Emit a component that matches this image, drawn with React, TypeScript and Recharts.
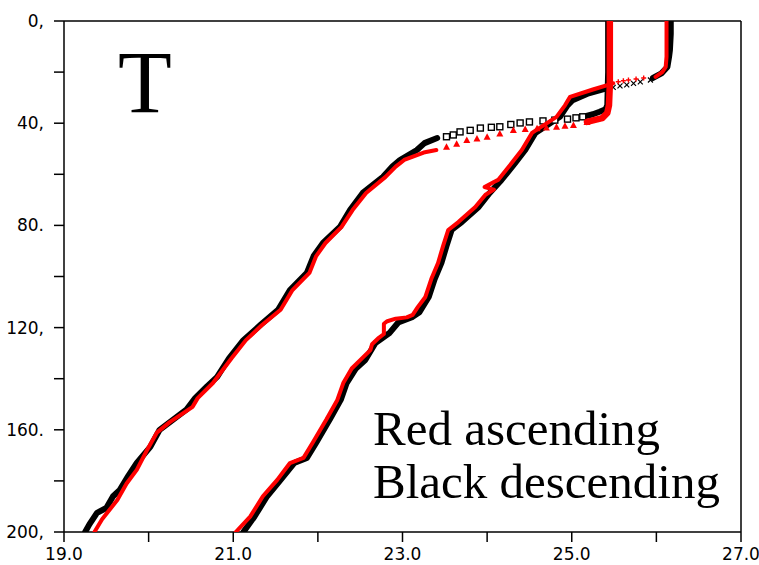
import React from 'react'
import { ScatterChart, Scatter, XAxis, YAxis } from 'recharts'

// temperature (degC) vs depth (m)
// left profile, black = descending cast
const coldDownDeepZ = [200, 197, 192.5, 190.6, 186, 183.5, 178, 173, 166.7, 160, 156, 152, 147.6, 143, 139.3, 132, 124.9, 119, 113, 105.3, 98.6, 92, 86.9, 80.6, 74, 67.3, 61, 57, 54.4, 50.5, 47.8, 45.8]
const coldDownDeepT = [19.25, 19.3, 19.39, 19.5, 19.58, 19.66, 19.76, 19.86, 20.02, 20.13, 20.29, 20.45, 20.55, 20.69, 20.81, 20.95, 21.12, 21.32, 21.53, 21.67, 21.87, 21.95, 22.06, 22.26, 22.38, 22.53, 22.77, 22.88, 22.97, 23.17, 23.26, 23.41]
const coldDownMidZ = [45.3, 44.6, 43.4, 42.8, 41.9, 41.6, 41.4, 40.5, 39.9, 39.5, 39.1, 38.8, 38.4, 37.9, 37.5]
const coldDownMidT = [23.52, 23.6, 23.68, 23.8, 23.92, 24.05, 24.15, 24.28, 24.39, 24.5, 24.66, 24.8, 24.95, 25.05, 25.13]
const coldDownTopZ = [37.5, 36.5, 35.5, 34.5, 33, 20, 0]
const coldDownTopT = [25.13, 25.25, 25.33, 25.4, 25.42, 25.43, 25.43]

// left profile, red = ascending cast
const coldUpDeepZ = [200, 195, 187.5, 181, 175.7, 168, 161, 157, 151, 147.6, 141.7, 132, 124.9, 119, 113, 105.3, 98.6, 92, 86.9, 80.6, 74, 67.3, 61, 57, 54.4, 51.5, 50.5]
const coldUpDeepT = [19.36, 19.45, 19.63, 19.74, 19.86, 19.98, 20.1, 20.25, 20.52, 20.58, 20.76, 20.98, 21.15, 21.34, 21.56, 21.7, 21.9, 21.98, 22.09, 22.28, 22.41, 22.57, 22.8, 22.92, 23.02, 23.25, 23.4]
const coldUpMidZ = [49.2, 48, 46.6, 46, 45.3, 44, 42.7, 42.3, 42, 41.7, 41.4, 41, 40.7, 39.5]
const coldUpMidT = [23.52, 23.64, 23.76, 23.88, 24.0, 24.15, 24.31, 24.45, 24.59, 24.7, 24.82, 24.92, 25.02, 25.18]
const coldUpTopZ = [39.5, 38.5, 38, 36, 33, 25, 10, 0]
const coldUpTopT = [25.18, 25.3, 25.36, 25.42, 25.44, 25.45, 25.45, 25.45]

// right profile, black = descending cast
const warmDownDeepZ = [200, 194, 186, 179.6, 173, 171, 165, 156, 148.3, 141.7, 136, 132.7, 126, 122, 118, 115.8, 114, 108, 101, 94.7, 88, 81.8, 78.7, 72.8, 67.3, 62.2, 55.6, 50.5, 43.8, 37.5, 33, 31, 28.3, 26.5]
const warmDownDeepT = [21.12, 21.25, 21.4, 21.56, 21.72, 21.87, 21.98, 22.14, 22.27, 22.34, 22.45, 22.56, 22.68, 22.85, 22.95, 23.12, 23.2, 23.31, 23.38, 23.46, 23.52, 23.58, 23.7, 23.9, 24.03, 24.17, 24.33, 24.45, 24.57, 24.86, 24.95, 25.01, 25.2, 25.4]
const warmDownMidZ = [26, 25.4, 25, 24.4, 23.8, 23.1]
const warmDownMidT = [25.49, 25.57, 25.65, 25.73, 25.81, 25.93]
const warmDownTopZ = [22.3, 20.5, 18, 14, 11.4, 5, 0]
const warmDownTopT = [25.96, 26.06, 26.13, 26.15, 26.16, 26.17, 26.17]

// right profile, red = ascending cast
const warmUpDeepZ = [200, 194, 186, 179.6, 173, 171, 165, 156, 148.3, 141.7, 136, 132.7, 128.8, 126.5, 124, 122.5, 118.5, 117.5, 116.5, 116, 115, 112, 108, 101, 94.7, 88, 81.8, 78.7, 72.8, 68, 66, 65, 63, 62.2, 55.6, 50.5, 43.8, 37.5, 33, 29.7, 26.8, 24.4]
const warmUpDeepT = [21.03, 21.2, 21.35, 21.52, 21.67, 21.83, 21.94, 22.1, 22.23, 22.3, 22.4, 22.5, 22.62, 22.64, 22.72, 22.78, 22.78, 22.82, 22.92, 23.05, 23.12, 23.18, 23.27, 23.34, 23.42, 23.48, 23.54, 23.66, 23.86, 23.98, 24.08, 23.97, 24.08, 24.13, 24.29, 24.41, 24.53, 24.82, 24.92, 24.98, 25.25, 25.49]
const warmUpMidZ = [23.8, 23.4, 23.1, 22.7, 22.3]
const warmUpMidT = [25.55, 25.61, 25.67, 25.76, 25.85]
const warmUpTopZ = [21.9, 20, 18, 14, 0]
const warmUpTopT = [25.99, 26.07, 26.11, 26.12, 26.12]

const xTicks = [19, 20, 21, 22, 23, 24, 25, 26, 27]
const yTicks = [0, 20, 40, 60, 80, 100, 120, 140, 160, 180, 200]
const yLabels: Record<number, string> = { 0: '0,', 40: '40,', 80: '80.', 120: '120,', 160: '160.', 200: '200,' }

const pts = (z: number[], t: number[]) => z.map((d, i) => ({ t: t[i], z: d }))

const RED = '#ff0000'
const tickFont = { fontSize: 17, fontFamily: 'DejaVu Sans', fill: '#000' }
const axisLine = { stroke: '#000', strokeWidth: 1.5 }

const Nothing = () => <g />
const Square = (p: any) => (
  <rect x={p.cx - 3} y={p.cy - 3} width={6} height={6} fill="#fff" stroke="#000" strokeWidth={1.4} />
)
const Tri = (p: any) => (
  <path d={`M${p.cx},${p.cy - 3.5}L${p.cx + 3.5},${p.cy + 3}L${p.cx - 3.5},${p.cy + 3}Z`} fill={RED} />
)
const Cross = (p: any) => (
  <path d={`M${p.cx - 2.5},${p.cy - 2.5}L${p.cx + 2.5},${p.cy + 2.5}M${p.cx - 2.5},${p.cy + 2.5}L${p.cx + 2.5},${p.cy - 2.5}`} stroke="#000" strokeWidth={1.2} />
)
const Plus = (p: any) => (
  <path d={`M${p.cx - 2.5},${p.cy}L${p.cx + 2.5},${p.cy}M${p.cx},${p.cy - 2.5}L${p.cx},${p.cy + 2.5}`} stroke={RED} strokeWidth={1.4} />
)

export default function App() {
  const blackLine = { stroke: '#000', strokeWidth: 6, strokeLinejoin: 'round' as const, strokeLinecap: 'round' as const }
  const redLine = { stroke: RED, strokeWidth: 4, strokeLinejoin: 'round' as const, strokeLinecap: 'round' as const }
  return (
    <div style={{ position: 'absolute', left: 0, top: 0, width: 759, height: 565, background: '#fff' }}>
      <ScatterChart width={759} height={565} margin={{ top: 20, right: 17, bottom: 3, left: 0 }}>
        <XAxis
          type="number" dataKey="t" domain={[19, 27]} ticks={xTicks} allowDataOverflow
          tickSize={10} tickMargin={6} height={30} tick={tickFont} axisLine={axisLine}
          tickLine={{ stroke: '#000', strokeWidth: 1.5 }}
          tickFormatter={(v: number) => (v % 2 === 1 ? v.toFixed(1) : '')}
        />
        <XAxis
          xAxisId="top" orientation="top" type="number" domain={[19, 27]} ticks={xTicks}
          tickSize={10} height={1} axisLine={axisLine} tickLine={{ stroke: '#000', strokeWidth: 1.5 }}
          tickFormatter={() => ''}
        />
        <YAxis
          type="number" dataKey="z" domain={[0, 200]} reversed ticks={yTicks} allowDataOverflow
          width={64} tickSize={10} tickMargin={10} tick={tickFont} axisLine={axisLine}
          tickLine={{ stroke: '#000', strokeWidth: 1.5 }}
          tickFormatter={(v: number) => yLabels[v] ?? ''}
        />
        <YAxis
          yAxisId="right" orientation="right" type="number" domain={[0, 200]} reversed ticks={yTicks}
          width={1} tickSize={10} axisLine={axisLine} tickLine={{ stroke: '#000', strokeWidth: 1.5 }}
          tickFormatter={() => ''}
        />

        <Scatter data={pts(coldDownDeepZ, coldDownDeepT)} line={blackLine} shape={Nothing} isAnimationActive={false} />
        <Scatter data={pts(coldDownTopZ, coldDownTopT)} line={blackLine} shape={Nothing} isAnimationActive={false} />
        <Scatter data={pts(warmDownDeepZ, warmDownDeepT)} line={blackLine} shape={Nothing} isAnimationActive={false} />
        <Scatter data={pts(warmDownTopZ, warmDownTopT)} line={blackLine} shape={Nothing} isAnimationActive={false} />
        <Scatter data={pts(coldDownMidZ, coldDownMidT)} shape={Square} isAnimationActive={false} />
        <Scatter data={pts(warmDownMidZ, warmDownMidT)} shape={Cross} isAnimationActive={false} />

        <Scatter data={pts(coldUpDeepZ, coldUpDeepT)} line={redLine} shape={Nothing} isAnimationActive={false} />
        <Scatter data={pts(coldUpTopZ, coldUpTopT)} line={{ ...redLine, strokeWidth: 6.5 }} shape={Nothing} isAnimationActive={false} />
        <Scatter data={pts(warmUpDeepZ, warmUpDeepT)} line={redLine} shape={Nothing} isAnimationActive={false} />
        <Scatter data={pts(warmUpTopZ, warmUpTopT)} line={redLine} shape={Nothing} isAnimationActive={false} />
        <Scatter data={pts(coldUpMidZ, coldUpMidT)} shape={Tri} isAnimationActive={false} />
        <Scatter data={pts(warmUpMidZ, warmUpMidT)} shape={Plus} isAnimationActive={false} />
      </ScatterChart>
      <svg width={759} height={565} style={{ position: 'absolute', left: 0, top: 0, pointerEvents: 'none' }}>
        <text x={118} y={112} fontSize={88} fontFamily="Liberation Serif">T</text>
        <text x={373} y={445} fontSize={49} fontFamily="Liberation Serif">Red ascending</text>
        <text x={373} y={498} fontSize={49} fontFamily="Liberation Serif">Black descending</text>
      </svg>
    </div>
  )
}
